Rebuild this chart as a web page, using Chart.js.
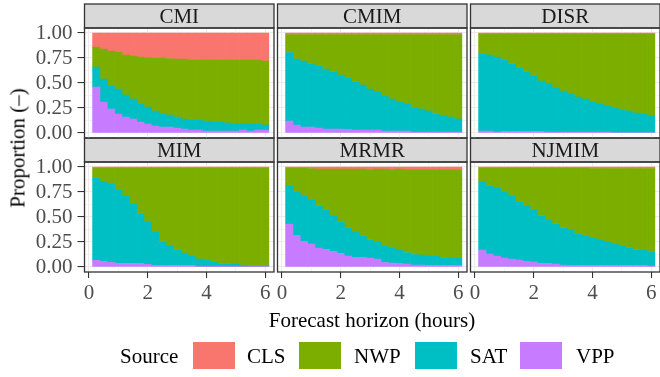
<!DOCTYPE html>
<html>
<head>
<meta charset="utf-8">
<script src="https://cdn.jsdelivr.net/npm/chart.js@4.4.1/dist/chart.umd.min.js"></script>
<style>
  body { margin: 0; background: #fff; }
  #wrap { position: relative; width: 660px; height: 377px; overflow: hidden; font-family: "Liberation Serif", serif; }
  #wrap canvas { position: absolute; left: 0; top: 0; }
  .strip { position: absolute; display: flex; align-items: center; justify-content: center; font-size: 21px; color: #1a1a1a; }
  .titulo { position: absolute; font-size: 21px; color: #000; white-space: nowrap; }
  .caixa { position: absolute; width: 42px; height: 27px; }
</style>
</head>
<body>
<div id="wrap">
  <div class="titulo" id="ytitle" style="left:18px; top:148px; transform: translate(-50%, -50%) rotate(-90deg);">Proportion (–)</div>
  <div class="titulo" style="left:372px; top:320px; transform: translate(-50%, -50%);">Forecast horizon (hours)</div>
  <div class="titulo" style="left:120px; top:356px; transform: translateY(-50%);">Source</div>
  <div class="caixa" style="left:193px; top:342px; background:#F8766D;"></div>
  <div class="titulo" style="left:247px; top:356px; transform: translateY(-50%);">CLS</div>
  <div class="caixa" style="left:299px; top:342px; background:#7CAE00;"></div>
  <div class="titulo" style="left:354px; top:356px; transform: translateY(-50%);">NWP</div>
  <div class="caixa" style="left:415px; top:342px; background:#00BFC4;"></div>
  <div class="titulo" style="left:470px; top:356px; transform: translateY(-50%);">SAT</div>
  <div class="caixa" style="left:520px; top:342px; background:#C77CFF;"></div>
  <div class="titulo" style="left:576px; top:356px; transform: translateY(-50%);">VPP</div>
</div>
<script>
// Horizontes de previsão (horas)
const horas = [0.25, 0.5, 0.75, 1, 1.25, 1.5, 1.75, 2, 2.25, 2.5, 2.75, 3, 3.25, 3.5, 3.75, 4, 4.25, 4.5, 4.75, 5, 5.25, 5.5, 5.75, 6];
const metodos = ['CMI', 'CMIM', 'DISR', 'MIM', 'MRMR', 'NJMIM'];
const fontes = ['VPP', 'SAT', 'NWP', 'CLS']; // de baixo para cima
const yTicks = [0, 0.125, 0.25, 0.375, 0.5, 0.625, 0.75, 0.875, 1];
const xTicks = [0, 1, 2, 3, 4, 5, 6];

const cmiCLS = [0.14, 0.16, 0.18, 0.19, 0.22, 0.23, 0.24, 0.245, 0.25, 0.25, 0.255, 0.26, 0.26, 0.27, 0.27, 0.27, 0.27, 0.27, 0.27, 0.27, 0.27, 0.27, 0.27, 0.28];
const cmiNWP = [0.20, 0.30, 0.35, 0.37, 0.40, 0.43, 0.47, 0.495, 0.53, 0.56, 0.565, 0.58, 0.60, 0.60, 0.60, 0.61, 0.62, 0.62, 0.63, 0.64, 0.64, 0.64, 0.64, 0.64];
const cmiSAT = [0.20, 0.23, 0.23, 0.25, 0.22, 0.20, 0.18, 0.17, 0.15, 0.13, 0.12, 0.11, 0.10, 0.10, 0.10, 0.10, 0.09, 0.09, 0.08, 0.07, 0.06, 0.07, 0.06, 0.05];
const cmiVPP = [0.46, 0.31, 0.24, 0.19, 0.16, 0.14, 0.11, 0.09, 0.07, 0.06, 0.06, 0.05, 0.04, 0.03, 0.03, 0.02, 0.02, 0.02, 0.02, 0.02, 0.03, 0.02, 0.03, 0.03];

const cmimCLS = [0.015, 0.015, 0.015, 0.015, 0.015, 0.015, 0.015, 0.015, 0.015, 0.015, 0.015, 0.015, 0.015, 0.015, 0.015, 0.015, 0.015, 0.015, 0.015, 0.015, 0.015, 0.015, 0.015, 0.015];
const cmimNWP = [0.18, 0.245, 0.265, 0.29, 0.31, 0.345, 0.37, 0.405, 0.43, 0.47, 0.505, 0.545, 0.575, 0.615, 0.645, 0.675, 0.695, 0.735, 0.745, 0.765, 0.79, 0.815, 0.825, 0.845];
const cmimSAT = [0.685, 0.66, 0.66, 0.635, 0.625, 0.60, 0.575, 0.54, 0.52, 0.485, 0.45, 0.41, 0.38, 0.35, 0.32, 0.29, 0.27, 0.24, 0.23, 0.21, 0.185, 0.16, 0.15, 0.13];
const cmimVPP = [0.12, 0.08, 0.06, 0.06, 0.05, 0.04, 0.04, 0.04, 0.035, 0.03, 0.03, 0.03, 0.03, 0.02, 0.02, 0.02, 0.02, 0.01, 0.01, 0.01, 0.01, 0.01, 0.01, 0.01];

const disrCLS = [0.01, 0.01, 0.01, 0.01, 0.01, 0.01, 0.01, 0.01, 0.01, 0.01, 0.01, 0.01, 0.01, 0.01, 0.01, 0.01, 0.01, 0.01, 0.01, 0.01, 0.01, 0.01, 0.01, 0.01];
const disrNWP = [0.195, 0.21, 0.23, 0.255, 0.295, 0.335, 0.375, 0.415, 0.47, 0.50, 0.54, 0.57, 0.60, 0.63, 0.65, 0.68, 0.70, 0.72, 0.74, 0.76, 0.77, 0.79, 0.80, 0.82];
const disrSAT = [0.775, 0.76, 0.75, 0.72, 0.68, 0.64, 0.60, 0.56, 0.505, 0.48, 0.44, 0.41, 0.38, 0.35, 0.33, 0.30, 0.28, 0.26, 0.245, 0.225, 0.215, 0.195, 0.185, 0.165];
const disrVPP = [0.02, 0.02, 0.01, 0.015, 0.015, 0.015, 0.015, 0.015, 0.015, 0.01, 0.01, 0.01, 0.01, 0.01, 0.01, 0.01, 0.01, 0.01, 0.005, 0.005, 0.005, 0.005, 0.005, 0.005];

const mimCLS = [0.01, 0.01, 0.01, 0.01, 0.01, 0.01, 0.01, 0.01, 0.01, 0.01, 0.01, 0.01, 0.01, 0.01, 0.01, 0.01, 0.01, 0.01, 0.01, 0.01, 0.01, 0.01, 0.01, 0.01];
const mimNWP = [0.095, 0.134, 0.16, 0.215, 0.28, 0.36, 0.455, 0.54, 0.64, 0.735, 0.78, 0.815, 0.85, 0.88, 0.91, 0.92, 0.935, 0.955, 0.955, 0.96, 0.97, 0.975, 0.975, 0.975];
const mimSAT = [0.828, 0.801, 0.783, 0.74, 0.675, 0.595, 0.50, 0.423, 0.335, 0.24, 0.195, 0.16, 0.125, 0.095, 0.073, 0.063, 0.048, 0.028, 0.028, 0.023, 0.013, 0.008, 0.008, 0.008];
const mimVPP = [0.067, 0.055, 0.047, 0.035, 0.035, 0.035, 0.035, 0.027, 0.015, 0.015, 0.015, 0.015, 0.015, 0.015, 0.007, 0.007, 0.007, 0.007, 0.007, 0.007, 0.007, 0.007, 0.007, 0.007];

const mrmrCLS = [0.01, 0.01, 0.01, 0.015, 0.02, 0.02, 0.02, 0.02, 0.02, 0.02, 0.02, 0.025, 0.02, 0.02, 0.025, 0.02, 0.025, 0.025, 0.025, 0.025, 0.025, 0.025, 0.025, 0.025];
const mrmrNWP = [0.18, 0.235, 0.28, 0.315, 0.365, 0.405, 0.47, 0.525, 0.585, 0.63, 0.665, 0.70, 0.73, 0.77, 0.785, 0.81, 0.83, 0.85, 0.855, 0.865, 0.865, 0.88, 0.885, 0.885];
const mrmrSAT = [0.38, 0.44, 0.455, 0.44, 0.425, 0.40, 0.355, 0.32, 0.285, 0.255, 0.22, 0.185, 0.17, 0.165, 0.15, 0.135, 0.115, 0.105, 0.10, 0.095, 0.095, 0.08, 0.075, 0.075];
const mrmrVPP = [0.43, 0.315, 0.255, 0.23, 0.19, 0.175, 0.155, 0.135, 0.11, 0.095, 0.095, 0.09, 0.08, 0.045, 0.04, 0.035, 0.03, 0.02, 0.02, 0.015, 0.015, 0.015, 0.015, 0.015];

const njmimCLS = [0.01, 0.01, 0.01, 0.01, 0.01, 0.01, 0.01, 0.01, 0.01, 0.01, 0.01, 0.01, 0.01, 0.01, 0.01, 0.015, 0.015, 0.015, 0.015, 0.015, 0.015, 0.015, 0.015, 0.015];
const njmimNWP = [0.14, 0.175, 0.20, 0.24, 0.28, 0.335, 0.38, 0.42, 0.475, 0.52, 0.555, 0.595, 0.62, 0.655, 0.68, 0.695, 0.715, 0.735, 0.755, 0.775, 0.79, 0.81, 0.815, 0.83];
const njmimSAT = [0.68, 0.685, 0.68, 0.66, 0.63, 0.585, 0.555, 0.52, 0.48, 0.435, 0.405, 0.375, 0.355, 0.32, 0.295, 0.275, 0.255, 0.235, 0.215, 0.195, 0.18, 0.16, 0.155, 0.145];
const njmimVPP = [0.17, 0.13, 0.11, 0.09, 0.08, 0.07, 0.055, 0.05, 0.035, 0.035, 0.03, 0.02, 0.015, 0.015, 0.015, 0.015, 0.015, 0.015, 0.015, 0.015, 0.015, 0.015, 0.015, 0.01];

const dados = {
  CMI:   { CLS: cmiCLS,   NWP: cmiNWP,   SAT: cmiSAT,   VPP: cmiVPP },
  CMIM:  { CLS: cmimCLS,  NWP: cmimNWP,  SAT: cmimSAT,  VPP: cmimVPP },
  DISR:  { CLS: disrCLS,  NWP: disrNWP,  SAT: disrSAT,  VPP: disrVPP },
  MIM:   { CLS: mimCLS,   NWP: mimNWP,   SAT: mimSAT,   VPP: mimVPP },
  MRMR:  { CLS: mrmrCLS,  NWP: mrmrNWP,  SAT: mrmrSAT,  VPP: mrmrVPP },
  NJMIM: { CLS: njmimCLS, NWP: njmimNWP, SAT: njmimSAT, VPP: njmimVPP }
};
const cores = { CLS: '#F8766D', NWP: '#7CAE00', SAT: '#00BFC4', VPP: '#C77CFF' };

// Posições dos painéis (px)
const colLeft = [84.5, 277.5, 470.5];
const panelW = 189.5;
const stripTop = [4, 138];
const stripH = 24;
const panelTop = [28, 162];
const panelH = 110;
const xAxisH = 32;
const fonte = { family: 'Liberation Serif', size: 21 };

const wrap = document.getElementById('wrap');

// Desenha a faixa cinza do título e a moldura do painel
const moldura = {
  id: 'moldura',
  afterDraw(chart, args, opts) {
    const { ctx, chartArea } = chart;
    ctx.save();
    ctx.lineWidth = 1.3;
    ctx.strokeStyle = '#333333';
    ctx.fillStyle = '#d9d9d9';
    ctx.fillRect(chartArea.left, opts.stripTop, chartArea.right - chartArea.left, stripH);
    ctx.strokeRect(chartArea.left, opts.stripTop, chartArea.right - chartArea.left, stripH);
    ctx.strokeRect(chartArea.left, chartArea.top, chartArea.right - chartArea.left, chartArea.bottom - chartArea.top);
    ctx.restore();
  }
};

metodos.forEach((m, k) => {
  const r = Math.floor(k / 3);
  const c = k % 3;
  const left = colLeft[c];
  const top = panelTop[r];
  const primeiraCol = c === 0;
  const ultimaLinha = r === 1;

  const canvas = document.createElement('canvas');
  canvas.width = 660;
  canvas.height = 377;
  wrap.insertBefore(canvas, wrap.firstChild);

  const rotulo = document.createElement('div');
  rotulo.className = 'strip';
  rotulo.textContent = m;
  rotulo.style.left = left + 'px';
  rotulo.style.top = stripTop[r] + 'px';
  rotulo.style.width = panelW + 'px';
  rotulo.style.height = stripH + 'px';
  wrap.appendChild(rotulo);

  new Chart(canvas, {
    type: 'bar',
    data: {
      datasets: fontes.map(f => ({
        label: f,
        data: horas.map((h, i) => ({ x: h, y: dados[m][f][i] })),
        backgroundColor: cores[f],
        borderWidth: 0,
        barPercentage: 1,
        categoryPercentage: 1
      }))
    },
    options: {
      responsive: false,
      animation: false,
      devicePixelRatio: 1,
      events: [],
      layout: {
        padding: {
          left: primeiraCol ? 0 : left,
          right: 660 - left - panelW,
          top: top,
          bottom: ultimaLinha ? 377 - top - panelH - xAxisH : 377 - top - panelH
        }
      },
      plugins: {
        legend: { display: false },
        tooltip: { enabled: false },
        moldura: { stripTop: stripTop[r] }
      },
      scales: {
        x: {
          type: 'linear',
          stacked: true,
          min: -0.15,
          max: 6.3,
          offset: false,
          afterBuildTicks: s => { s.ticks = xTicks.map(v => ({ value: v })); },
          afterFit: s => { s.height = ultimaLinha ? xAxisH : 0; },
          border: { display: false },
          grid: {
            offset: false,
            color: '#ebebeb',
            lineWidth: ctx => (ctx.tick && ctx.tick.value % 2 === 0) ? 1.07 : 0.53,
            drawTicks: ultimaLinha,
            tickLength: 6,
            tickWidth: 1.1,
            tickColor: ctx => (ctx.tick && ctx.tick.value % 2 === 0) ? '#333333' : 'rgba(0,0,0,0)'
          },
          ticks: {
            display: ultimaLinha,
            autoSkip: false,
            maxRotation: 0,
            padding: 3,
            color: '#4d4d4d',
            font: fonte,
            callback: v => v % 2 === 0 ? String(v) : ''
          }
        },
        y: {
          stacked: true,
          min: -0.05,
          max: 1.05,
          afterBuildTicks: s => { s.ticks = yTicks.map(v => ({ value: v })); },
          afterFit: s => { s.width = primeiraCol ? colLeft[0] : 0; },
          border: { display: false },
          grid: {
            color: '#ebebeb',
            lineWidth: ctx => (ctx.tick && (ctx.tick.value * 4) % 1 === 0) ? 1.07 : 0.53,
            drawTicks: primeiraCol,
            tickLength: 7,
            tickWidth: 1.1,
            tickColor: ctx => (ctx.tick && (ctx.tick.value * 4) % 1 === 0) ? '#333333' : 'rgba(0,0,0,0)'
          },
          ticks: {
            display: primeiraCol,
            autoSkip: false,
            padding: 5,
            color: '#4d4d4d',
            font: fonte,
            callback: v => (v * 4) % 1 === 0 ? v.toFixed(2) : ''
          }
        }
      }
    },
    plugins: [moldura]
  });
});
</script>
</body>
</html>
